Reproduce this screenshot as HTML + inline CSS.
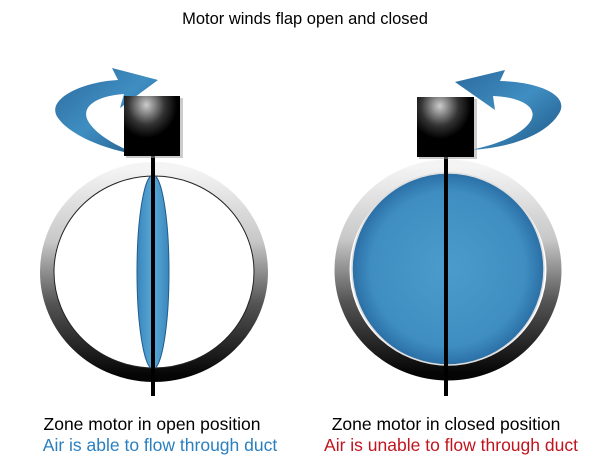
<!DOCTYPE html>
<html><head><meta charset="utf-8"><style>
html,body{margin:0;padding:0;background:#fff;}
body{width:610px;height:471px;overflow:hidden;position:relative;font-family:"Liberation Sans","DejaVu Sans",sans-serif;}
.t{position:absolute;white-space:nowrap;text-align:center;transform:translateX(-50%);font-size:17.5px;}
</style></head><body>
<svg width="610" height="471" style="position:absolute;left:0;top:0">
<defs>
<linearGradient id="ring" x1="0" y1="0" x2="0" y2="1">
<stop offset="0" stop-color="#f4f4f4"/><stop offset="0.35" stop-color="#c8c8c8"/><stop offset="0.65" stop-color="#555"/><stop offset="1" stop-color="#050505"/>
</linearGradient>
<radialGradient id="blue" cx="0.5" cy="0.5" r="0.5">
<stop offset="0" stop-color="#4b9ccb"/><stop offset="0.8" stop-color="#3f8ec2"/><stop offset="1" stop-color="#2a6fa6"/>
</radialGradient>
<linearGradient id="lens" x1="0" y1="0" x2="1" y2="0">
<stop offset="0" stop-color="#3a86bd"/><stop offset="0.5" stop-color="#5aa8d6"/><stop offset="1" stop-color="#3a86bd"/>
</linearGradient>
<linearGradient id="arr" x1="0" y1="0" x2="1" y2="1">
<stop offset="0" stop-color="#2c6a9d"/><stop offset="0.5" stop-color="#3f8ec2"/><stop offset="1" stop-color="#1e5483"/>
</linearGradient>
<radialGradient id="box" cx="0.4" cy="0.15" r="0.55">
<stop offset="0" stop-color="#ccc"/><stop offset="0.6" stop-color="#333"/><stop offset="1" stop-color="#000"/>
</radialGradient>
</defs>
<!-- left -->
<ellipse cx="154" cy="272" rx="107" ry="103" fill="none" stroke="url(#ring)" stroke-width="14"/>
<ellipse cx="154" cy="272" rx="100" ry="96" fill="none" stroke="#222" stroke-width="1"/>
<ellipse cx="153" cy="272" rx="16" ry="97" fill="url(#lens)" stroke="#1f5d8e" stroke-width="1"/>
<line x1="153" y1="150" x2="153" y2="396" stroke="#000" stroke-width="4"/>
<path d="M58,118 C45,100 80,82 118,80 L112,68 L158,80 L120,108 L124,94 C95,96 78,108 90,124 C100,138 125,150 140,155 C105,150 70,135 58,118 Z" fill="url(#arr)"/>
<rect x="126" y="98" width="57" height="60" fill="#999" opacity="0.5"/>
<rect x="124" y="96" width="56" height="60" fill="url(#box)"/>
<!-- right -->
<ellipse cx="448" cy="270" rx="106" ry="103" fill="none" stroke="url(#ring)" stroke-width="15"/>
<circle cx="448" cy="269" r="96" fill="url(#blue)" stroke="#ddd" stroke-width="1.5"/>
<line x1="446" y1="150" x2="446" y2="396" stroke="#000" stroke-width="4"/>
<path d="M558,115 C572,96 540,82 500,81 L505,70 L455,82 L495,110 L493,96 C520,97 540,107 530,122 C520,136 495,145 470,150 C510,148 545,135 558,115 Z" fill="url(#arr)"/>
<rect x="419" y="99" width="58" height="60" fill="#999" opacity="0.5"/>
<rect x="417" y="97" width="57" height="60" fill="url(#box)"/>
</svg>
<div class="t" style="left:305px;top:10px;font-size:16.5px;">Motor winds flap open and closed</div>
<div class="t" style="left:152px;top:414px;">Zone motor in open position</div>
<div class="t" style="left:160px;top:435px;color:#2a7fc0;">Air is able to flow through duct</div>
<div class="t" style="left:446px;top:414px;">Zone motor in closed position</div>
<div class="t" style="left:451px;top:435px;color:#c0141e;">Air is unable to flow through duct</div>
</body></html>
